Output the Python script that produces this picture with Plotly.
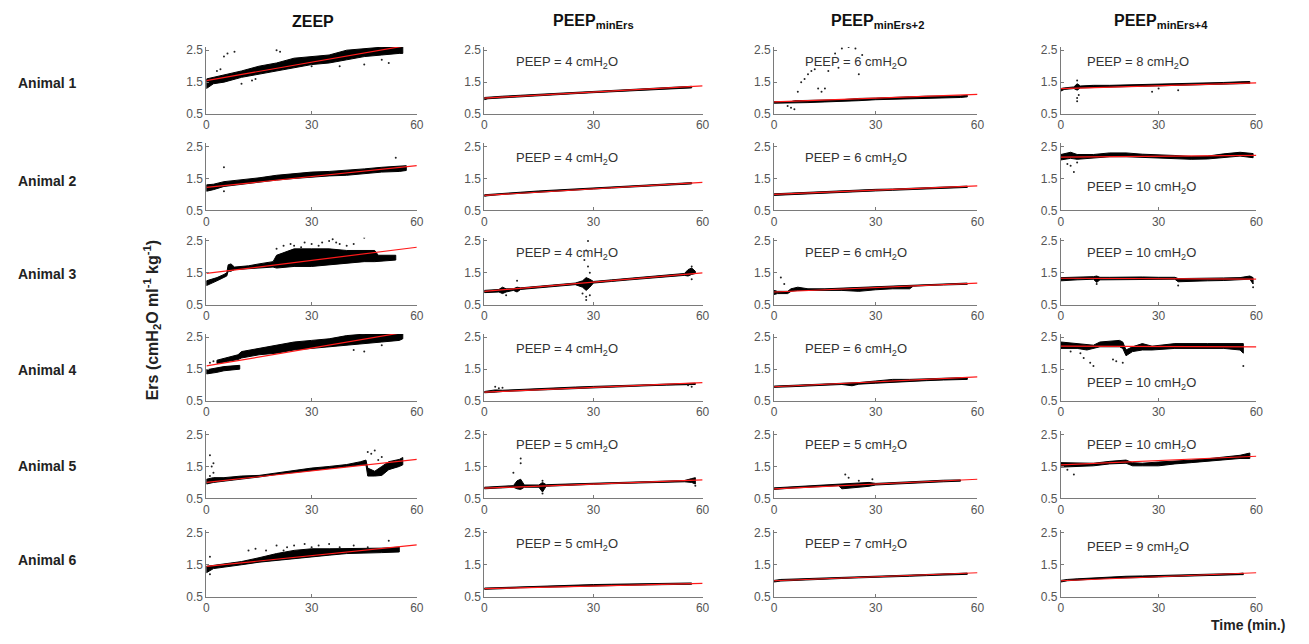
import plotly.graph_objects as go

# ---------------- DATA ----------------
ANIMALS = ["Animal 1", "Animal 2", "Animal 3", "Animal 4", "Animal 5", "Animal 6"]
CONDITIONS = ["ZEEP", "PEEP<sub>minErs</sub>", "PEEP<sub>minErs+2</sub>", "PEEP<sub>minErs+4</sub>"]
X_TICKS = [0, 30, 60]
Y_TICKS = [0.5, 1.5, 2.5]

# PEEP levels printed inside the panels (ZEEP has none)
PEEP_MIN = [4, 4, 4, 4, 5, 5]
PEEP_MIN2 = [6, 6, 6, 6, 5, 7]
PEEP_MIN4 = [8, 10, 10, 10, 10, 9]

# Regression line: Ers at t = 0 and t = 60 min
ZEEP_FIT = [(1.55, 2.70), (1.22, 1.90), (1.48, 2.30), (1.60, 2.72), (1.00, 1.72), (1.45, 2.12)]
MIN_FIT = [(1.00, 1.38), (0.97, 1.38), (0.92, 1.50), (0.78, 1.08), (0.82, 1.08), (0.75, 0.92)]
MIN2_FIT = [(0.88, 1.12), (1.00, 1.27), (0.90, 1.18), (0.95, 1.26), (0.80, 1.10), (1.00, 1.25)]
MIN4_FIT = [(1.30, 1.48), (2.17, 2.22), (1.33, 1.30), (2.22, 2.20), (1.55, 1.82), (1.00, 1.25)]

# ---- ZEEP: measured Ers band (time, lower, upper; None separates strands) and stray points ----
ZEEP_T = [
    [0, 2, 5, 10, 15, 20, 25, 30, 35, 40, 45, 50, 55, 56],
    [0, 2, 5, 10, 15, 20, 25, 30, 35, 40, 45, 50, 55, 57],
    [0, 3, 5, 5.8, 6.2, 7, 8, 12, 15, 19, 20, 25, 30, 35, 40, 45, 48, 49, 54],
    [0, 3, 5, 9.5, None, 3, 6, 9, 10, 15, 20, 25, 30, 35, 40, 45, 50, 55, 56],
    [0, 2, 5, 10, 15, 20, 25, 30, 35, 40, 44, 45.5, 46, 48, 50, 52, 55, 56],
    [0, 2, 5, 10, 15, 20, 25, 30, 35, 40, 45, 50, 55],
]
ZEEP_LO = [
    [1.30, 1.45, 1.50, 1.65, 1.75, 1.85, 1.95, 2.05, 2.10, 2.20, 2.30, 2.35, 2.40, 2.40],
    [1.10, 1.15, 1.25, 1.30, 1.38, 1.45, 1.50, 1.55, 1.58, 1.60, 1.65, 1.70, 1.72, 1.75],
    [1.10, 1.25, 1.35, 1.40, 1.55, 1.55, 1.60, 1.63, 1.65, 1.68, 1.65, 1.70, 1.70, 1.75, 1.80, 1.85, 1.85, 1.85, 1.90],
    [1.35, 1.40, 1.45, 1.50, None, 1.68, 1.74, 1.80, 1.85, 1.95, 2.00, 2.10, 2.15, 2.20, 2.25, 2.30, 2.35, 2.40, 2.45],
    [0.95, 1.00, 1.05, 1.10, 1.17, 1.25, 1.32, 1.38, 1.44, 1.50, 1.55, 1.55, 1.20, 1.20, 1.22, 1.40, 1.50, 1.55],
    [1.25, 1.38, 1.42, 1.50, 1.58, 1.65, 1.70, 1.75, 1.80, 1.85, 1.87, 1.88, 1.90],
]
ZEEP_HI = [
    [1.60, 1.65, 1.72, 1.85, 2.00, 2.10, 2.25, 2.30, 2.35, 2.50, 2.55, 2.60, 2.65, 2.65],
    [1.30, 1.32, 1.40, 1.45, 1.52, 1.60, 1.65, 1.70, 1.72, 1.75, 1.80, 1.85, 1.88, 1.90],
    [1.25, 1.35, 1.45, 1.50, 1.75, 1.78, 1.68, 1.72, 1.78, 1.85, 2.05, 2.25, 2.25, 2.25, 2.20, 2.20, 2.20, 2.05, 2.05],
    [1.48, 1.55, 1.58, 1.62, None, 1.78, 1.86, 1.95, 2.05, 2.15, 2.25, 2.35, 2.40, 2.45, 2.55, 2.60, 2.65, 2.70, 2.70],
    [1.10, 1.15, 1.15, 1.20, 1.22, 1.30, 1.37, 1.45, 1.50, 1.56, 1.65, 1.70, 1.45, 1.35, 1.50, 1.65, 1.72, 1.78],
    [1.45, 1.48, 1.52, 1.60, 1.72, 1.85, 1.95, 2.00, 2.00, 2.00, 2.00, 2.02, 2.05],
]
ZEEP_OUT_T = [
    [3, 4, 5, 6, 8, 10, 13, 14, 17, 20, 21, 30, 38, 45, 50, 52],
    [5, 5, 54],
    [20, 22, 24, 25, 27, 28, 30, 32, 33, 35, 36, 37, 38, 40, 42, 45],
    [1, 2, 42, 45, 50],
    [1, 1.5, 2, 2, 1, 47, 48, 49, 50, 46],
    [1, 1, 12, 14, 17, 20, 22, 23, 25, 28, 30, 32, 35, 38, 42, 46, 52],
]
ZEEP_OUT_Y = [
    [1.85, 1.90, 2.30, 2.40, 2.45, 1.45, 1.55, 1.60, 2.65, 2.50, 2.45, 2.00, 2.00, 2.05, 2.20, 2.10],
    [1.85, 1.10, 2.15],
    [2.25, 2.35, 2.40, 2.35, 2.30, 2.45, 2.40, 2.35, 2.45, 2.50, 2.55, 2.45, 2.40, 2.35, 2.40, 2.60],
    [1.70, 1.75, 2.10, 2.05, 2.25],
    [1.85, 1.50, 1.60, 1.30, 1.20, 1.90, 2.00, 1.70, 1.80, 1.95],
    [1.75, 1.20, 1.95, 2.00, 1.95, 2.10, 1.95, 2.05, 2.10, 2.15, 2.05, 2.10, 2.15, 2.05, 2.10, 2.05, 2.25],
]

# ---- PEEP minErs ----
MIN_T = [
    [0, 1, 5, 10, 15, 20, 25, 30, 35, 40, 45, 50, 55, 57],
    [0, 1, 5, 10, 15, 20, 25, 30, 35, 40, 45, 50, 55, 57],
    [0, 2, 4, 5, 6, 8, 9, 10, 15, 20, 25, 27, 28, 29, 30, 35, 40, 45, 50, 55, 56, 57, 58],
    [0, 3, 5, 10, 15, 20, 25, 30, 35, 40, 45, 50, 55, 58],
    [0, 5, 8, 9, 10, 11, 15, 16, 17, 20, 25, 30, 35, 40, 45, 50, 55, 57, 58],
    [0, 5, 10, 15, 20, 25, 30, 35, 40, 45, 50, 55, 57],
]
MIN_LO = [
    [0.95, 0.98, 1.02, 1.05, 1.08, 1.11, 1.14, 1.17, 1.20, 1.23, 1.26, 1.29, 1.31, 1.32],
    [0.94, 0.96, 1.00, 1.03, 1.07, 1.10, 1.14, 1.17, 1.20, 1.23, 1.27, 1.29, 1.32, 1.33],
    [0.88, 0.90, 0.90, 0.85, 0.90, 0.95, 0.90, 0.98, 1.03, 1.08, 1.13, 1.05, 0.95, 1.05, 1.18, 1.23, 1.28, 1.33, 1.38, 1.42, 1.40, 1.45, 1.48],
    [0.76, 0.78, 0.80, 0.83, 0.86, 0.88, 0.90, 0.92, 0.94, 0.96, 0.98, 1.00, 1.02, 1.02],
    [0.80, 0.83, 0.85, 0.80, 0.78, 0.85, 0.85, 0.70, 0.88, 0.90, 0.92, 0.94, 0.96, 0.98, 1.00, 1.01, 1.02, 1.00, 0.95],
    [0.73, 0.75, 0.78, 0.80, 0.81, 0.83, 0.84, 0.85, 0.86, 0.87, 0.88, 0.89, 0.89],
]
MIN_HI = [
    [1.02, 1.03, 1.06, 1.09, 1.12, 1.15, 1.19, 1.21, 1.24, 1.28, 1.31, 1.34, 1.36, 1.37],
    [0.99, 1.00, 1.04, 1.07, 1.11, 1.14, 1.18, 1.21, 1.24, 1.27, 1.31, 1.33, 1.36, 1.37],
    [0.95, 0.97, 0.98, 1.05, 1.00, 1.00, 1.05, 1.03, 1.08, 1.13, 1.18, 1.25, 1.35, 1.30, 1.23, 1.28, 1.33, 1.38, 1.43, 1.48, 1.60, 1.65, 1.55],
    [0.80, 0.85, 0.84, 0.87, 0.90, 0.92, 0.94, 0.96, 0.98, 1.00, 1.02, 1.05, 1.06, 1.06],
    [0.85, 0.88, 0.90, 1.05, 1.10, 0.92, 0.92, 1.00, 0.93, 0.94, 0.96, 0.98, 1.00, 1.02, 1.04, 1.05, 1.06, 1.12, 1.15],
    [0.77, 0.79, 0.82, 0.84, 0.85, 0.87, 0.88, 0.89, 0.90, 0.91, 0.92, 0.93, 0.93],
]
MIN_OUT_T = [[], [], [27, 28, 28, 28.5, 28, 27.5, 28.5, 29, 29, 6, 9, 57, 57], [3, 4, 5, 57, 56], [8, 10, 10, 16, 16, 58], []]
MIN_OUT_Y = [[], [], [0.85, 0.65, 0.75, 2.50, 2.20, 1.90, 1.70, 1.50, 0.80, 0.80, 1.25, 1.70, 1.30],
             [0.95, 0.90, 0.92, 0.95, 1.00], [1.30, 1.75, 1.60, 0.65, 1.05, 0.90], []]

# ---- PEEP minErs+2 ----
MIN2_T = [
    [0, 5, 6, 10, 15, 20, 25, 30, 35, 40, 45, 50, 55, 57],
    [0, 2, 5, 10, 15, 20, 25, 30, 35, 40, 45, 50, 55, 57],
    [0, 1, 4, 5, 7, 10, 15, 20, 25, 30, 35, 40, 41, 45, 50, 55, 57],
    [0, 5, 10, 15, 20, 23, 25, 30, 35, 40, 45, 50, 55, 57],
    [0, 5, 10, 15, 19, 20, 25, 28, 30, 35, 40, 45, 50, 55],
    [0, 2, 5, 10, 15, 20, 25, 30, 35, 40, 45, 50, 55, 57],
]
MIN2_LO = [
    [0.84, 0.84, 0.86, 0.86, 0.88, 0.89, 0.92, 0.95, 0.98, 0.99, 1.00, 1.01, 1.02, 1.04],
    [0.97, 0.98, 1.01, 1.03, 1.05, 1.07, 1.09, 1.11, 1.13, 1.15, 1.17, 1.19, 1.21, 1.22],
    [0.82, 0.85, 0.85, 0.92, 0.95, 0.93, 0.95, 0.95, 0.92, 0.97, 1.00, 1.00, 1.08, 1.10, 1.12, 1.14, 1.14],
    [0.93, 0.95, 0.97, 0.99, 1.02, 0.98, 1.03, 1.06, 1.10, 1.12, 1.14, 1.16, 1.18, 1.18],
    [0.78, 0.82, 0.85, 0.88, 0.90, 0.80, 0.85, 0.88, 0.92, 0.95, 0.98, 1.00, 1.02, 1.04],
    [0.96, 0.99, 1.00, 1.03, 1.05, 1.07, 1.09, 1.11, 1.13, 1.14, 1.16, 1.18, 1.19, 1.20],
]
MIN2_HI = [
    [0.89, 0.89, 0.92, 0.92, 0.94, 0.95, 0.99, 1.00, 1.03, 1.04, 1.06, 1.06, 1.07, 1.09],
    [1.02, 1.03, 1.05, 1.07, 1.09, 1.11, 1.13, 1.16, 1.17, 1.19, 1.21, 1.23, 1.25, 1.26],
    [0.95, 0.92, 0.92, 1.00, 1.05, 1.00, 1.00, 1.02, 1.05, 1.08, 1.10, 1.10, 1.12, 1.14, 1.16, 1.18, 1.18],
    [0.97, 0.99, 1.01, 1.04, 1.07, 1.06, 1.08, 1.13, 1.18, 1.18, 1.20, 1.22, 1.24, 1.24],
    [0.83, 0.86, 0.89, 0.92, 0.95, 0.95, 1.00, 1.00, 0.97, 1.00, 1.03, 1.05, 1.07, 1.08],
    [1.01, 1.04, 1.05, 1.07, 1.09, 1.11, 1.13, 1.15, 1.17, 1.18, 1.20, 1.22, 1.23, 1.24],
]
MIN2_OUT_T = [[4, 5, 6, 7, 8, 9, 10, 11, 12, 13, 14, 15, 16, 18, 19, 20, 22, 24, 25, 26],
              [], [2, 3], [], [21, 22, 25, 29], []]
MIN2_OUT_Y = [[0.75, 0.70, 0.65, 1.20, 1.50, 1.60, 1.75, 1.85, 1.90, 1.30, 1.20, 1.30, 1.85, 2.40, 1.95, 2.55, 2.60, 2.55, 1.75, 2.35],
              [], [1.35, 1.15], [], [1.25, 1.15, 1.05, 1.10], []]

# ---- PEEP minErs+4 ----
MIN4_T = [
    [0, 1, 4, 5, 6, 10, 15, 20, 25, 30, 35, 40, 45, 50, 55, 58],
    [0, 3, 5, 10, 15, 20, 25, 30, 35, 40, 45, 50, 55, 59],
    [0, 5, 10, 11, 12, 15, 20, 25, 30, 35, 36, 40, 45, 50, 55, 58, 59],
    [0, 5, 8, 10, 12, 18, 19, 20, 22, 25, 28, 35, 45, 50, 55, 56],
    [0, 5, 10, 15, 20, 22, 25, 30, 35, 40, 45, 50, 55, 58],
    [0, 2, 5, 10, 15, 20, 25, 30, 35, 40, 45, 50, 55, 56],
]
MIN4_LO = [
    [1.22, 1.27, 1.30, 1.25, 1.32, 1.35, 1.35, 1.36, 1.37, 1.38, 1.39, 1.40, 1.42, 1.44, 1.45, 1.46],
    [2.08, 2.13, 2.10, 2.13, 2.18, 2.18, 2.15, 2.15, 2.12, 2.10, 2.11, 2.16, 2.20, 2.15],
    [1.25, 1.28, 1.30, 1.20, 1.28, 1.30, 1.30, 1.30, 1.30, 1.30, 1.22, 1.23, 1.25, 1.26, 1.28, 1.30, 1.15],
    [2.15, 2.15, 2.10, 2.15, 2.20, 2.20, 2.15, 1.92, 2.05, 2.10, 2.10, 2.15, 2.15, 2.15, 2.10, 2.00],
    [1.48, 1.50, 1.52, 1.58, 1.60, 1.52, 1.52, 1.52, 1.58, 1.62, 1.66, 1.70, 1.75, 1.75],
    [0.96, 1.00, 1.02, 1.05, 1.08, 1.10, 1.10, 1.12, 1.14, 1.15, 1.16, 1.18, 1.19, 1.19],
]
MIN4_HI = [
    [1.30, 1.32, 1.35, 1.45, 1.38, 1.40, 1.40, 1.41, 1.42, 1.43, 1.44, 1.46, 1.48, 1.49, 1.51, 1.52],
    [2.25, 2.32, 2.25, 2.25, 2.30, 2.30, 2.26, 2.25, 2.22, 2.19, 2.20, 2.27, 2.32, 2.28],
    [1.35, 1.36, 1.38, 1.40, 1.36, 1.36, 1.37, 1.37, 1.36, 1.36, 1.32, 1.32, 1.33, 1.34, 1.35, 1.40, 1.35],
    [2.35, 2.30, 2.25, 2.25, 2.35, 2.40, 2.35, 2.10, 2.20, 2.30, 2.22, 2.30, 2.30, 2.30, 2.30, 2.30],
    [1.62, 1.60, 1.60, 1.66, 1.70, 1.62, 1.60, 1.64, 1.66, 1.70, 1.74, 1.80, 1.85, 1.92],
    [1.01, 1.04, 1.06, 1.09, 1.12, 1.14, 1.15, 1.16, 1.18, 1.19, 1.21, 1.22, 1.23, 1.24],
]
MIN4_OUT_T = [[5, 5, 5, 5.5, 28, 30, 36], [2, 3, 4, 5], [11, 36, 59],
              [3, 6, 7, 9, 10, 16, 17, 19, 56], [2, 4], []]
MIN4_OUT_Y = [[1.55, 1.00, 0.90, 1.10, 1.20, 1.30, 1.25], [1.95, 1.90, 1.70, 2.00], [1.15, 1.10, 1.05],
              [2.05, 2.00, 1.85, 1.70, 1.60, 1.80, 1.75, 1.70, 1.60], [1.40, 1.25], []]

# ---------------- LAYOUT / STYLE ----------------
W, H = 1309, 644
COL_PX = [(205, 417), (485, 705), (777, 982), (1066, 1263)]
ROW_BASE_PX = [112, 210, 306, 404, 503, 603]   # pixel of Ers = 0.5
UNIT_PX = 32.5
Y_RANGE = [0.5, 2.6]
X_RANGE = [0, 60]
LABEL_X = [None, 8.2, 8.5, 7.3]
LABEL_Y = [
    [None, 2.12, 2.12, 2.10],
    [None, 2.12, 2.12, 1.22],
    [None, 2.12, 2.12, 2.12],
    [None, 2.12, 2.12, 1.05],
    [None, 2.15, 2.15, 2.15],
    [None, 2.12, 2.12, 2.05],
]
COL_TITLE_X = [312, 595, 881, 1167]
ROW_LABEL_Y = [80, 180, 275, 372, 470, 566]
AXIS_GREY = "#7a7a7a"
FONT = "Liberation Sans, Arial, sans-serif"

conds = [
    (ZEEP_T, ZEEP_LO, ZEEP_HI, ZEEP_OUT_T, ZEEP_OUT_Y, ZEEP_FIT, None),
    (MIN_T, MIN_LO, MIN_HI, MIN_OUT_T, MIN_OUT_Y, MIN_FIT, PEEP_MIN),
    (MIN2_T, MIN2_LO, MIN2_HI, MIN2_OUT_T, MIN2_OUT_Y, MIN2_FIT, PEEP_MIN2),
    (MIN4_T, MIN4_LO, MIN4_HI, MIN4_OUT_T, MIN4_OUT_Y, MIN4_FIT, PEEP_MIN4),
]


def band_polygon(t, lo, hi):
    """Closed outline(s) of the band; strands separated by None."""
    px, py = [], []
    seg = []
    for ti, l, h in list(zip(t, lo, hi)) + [(None, None, None)]:
        if ti is None:
            if seg:
                ts = [s[0] for s in seg]
                ls = [s[1] for s in seg]
                hs = [s[2] for s in seg]
                if px:
                    px.append(None)
                    py.append(None)
                px += ts + ts[::-1] + [ts[0]]
                py += hs + ls[::-1] + [hs[0]]
            seg = []
        else:
            seg.append((ti, l, h))
    return px, py


fig = go.Figure()
layout = dict(
    width=W, height=H, margin=dict(l=0, r=0, t=0, b=0),
    paper_bgcolor="white", plot_bgcolor="white", showlegend=False,
    font=dict(family=FONT, color="#333"),
)
annotations = []

for r in range(6):
    for c in range(4):
        k = r * 4 + c + 1
        xs = "" if k == 1 else str(k)
        xa, ya = "x" + xs, "y" + xs
        T, LO, HI, OT, OY, FIT, PEEP = conds[c]
        px, py = band_polygon(T[r], LO[r], HI[r])
        fig.add_trace(go.Scatter(
            x=px, y=py, mode="lines", fill="toself",
            fillcolor="black", line=dict(color="black", width=1),
            xaxis=xa, yaxis=ya, hoverinfo="skip"))
        if OT[r]:
            fig.add_trace(go.Scatter(
                x=OT[r], y=OY[r], mode="markers",
                marker=dict(color="#222", size=2),
                xaxis=xa, yaxis=ya, hoverinfo="skip"))
        f0, f60 = FIT[r]
        fig.add_trace(go.Scatter(
            x=[X_RANGE[0], X_RANGE[1]], y=[f0, f60], mode="lines",
            line=dict(color="#ff1a1a", width=1.2),
            xaxis=xa, yaxis=ya, hoverinfo="skip"))

        x0, x1 = COL_PX[c]
        base = ROW_BASE_PX[r]
        top = base - (Y_RANGE[1] - Y_RANGE[0]) * UNIT_PX
        layout["xaxis" + xs] = dict(
            domain=[x0 / W, x1 / W], range=X_RANGE, anchor=ya,
            tickvals=X_TICKS, ticks="inside", ticklen=3, tickcolor=AXIS_GREY,
            showline=True, linecolor=AXIS_GREY, linewidth=1,
            showgrid=False, zeroline=False,
            tickfont=dict(size=12, color="#555", family=FONT),
        )
        layout["yaxis" + xs] = dict(
            domain=[1 - base / H, 1 - top / H], range=Y_RANGE, anchor=xa,
            tickvals=Y_TICKS, ticktext=[str(v) for v in Y_TICKS],
            ticks="inside", ticklen=3, tickcolor=AXIS_GREY,
            showline=True, linecolor=AXIS_GREY, linewidth=1,
            showgrid=False, zeroline=False,
            tickfont=dict(size=12, color="#555", family=FONT),
        )
        if PEEP is not None:
            annotations.append(dict(
                x=LABEL_X[c], y=LABEL_Y[r][c], xref=xa, yref=ya,
                text=f"PEEP = {PEEP[r]} cmH<sub>2</sub>O", showarrow=False,
                xanchor="left", yanchor="middle",
                font=dict(size=13, color="#333", family=FONT)))

for c, title in enumerate(CONDITIONS):
    annotations.append(dict(
        x=COL_TITLE_X[c] / W, y=1 - 18 / H, xref="paper", yref="paper",
        text=f"<b>{title}</b>", showarrow=False, xanchor="center", yanchor="middle",
        font=dict(size=16, color="#111", family=FONT)))

for r, name in enumerate(ANIMALS):
    annotations.append(dict(
        x=45 / W, y=1 - ROW_LABEL_Y[r] / H, xref="paper", yref="paper",
        text=f"<b>{name}</b>", showarrow=False, xanchor="center", yanchor="middle",
        font=dict(size=14, color="#222", family=FONT)))

annotations.append(dict(
    x=150 / W, y=1 - 322 / H, xref="paper", yref="paper", textangle=-90,
    text="<b>Ers (cmH<sub>2</sub>O ml<sup>-1</sup> kg<sup>-1</sup>)</b>", showarrow=False,
    xanchor="center", yanchor="middle", font=dict(size=16, color="#222", family=FONT)))

annotations.append(dict(
    x=1255 / W, y=1 - 632 / H, xref="paper", yref="paper",
    text="<b>Time (min.)</b>", showarrow=False, xanchor="center", yanchor="middle",
    font=dict(size=14, color="#222", family=FONT)))

layout["annotations"] = annotations
fig.update_layout(**layout)
fig.write_html(
    "out.html",
    config={"displayModeBar": False},
    post_script="document.body.style.margin='0';document.body.style.overflow='hidden';",
)
